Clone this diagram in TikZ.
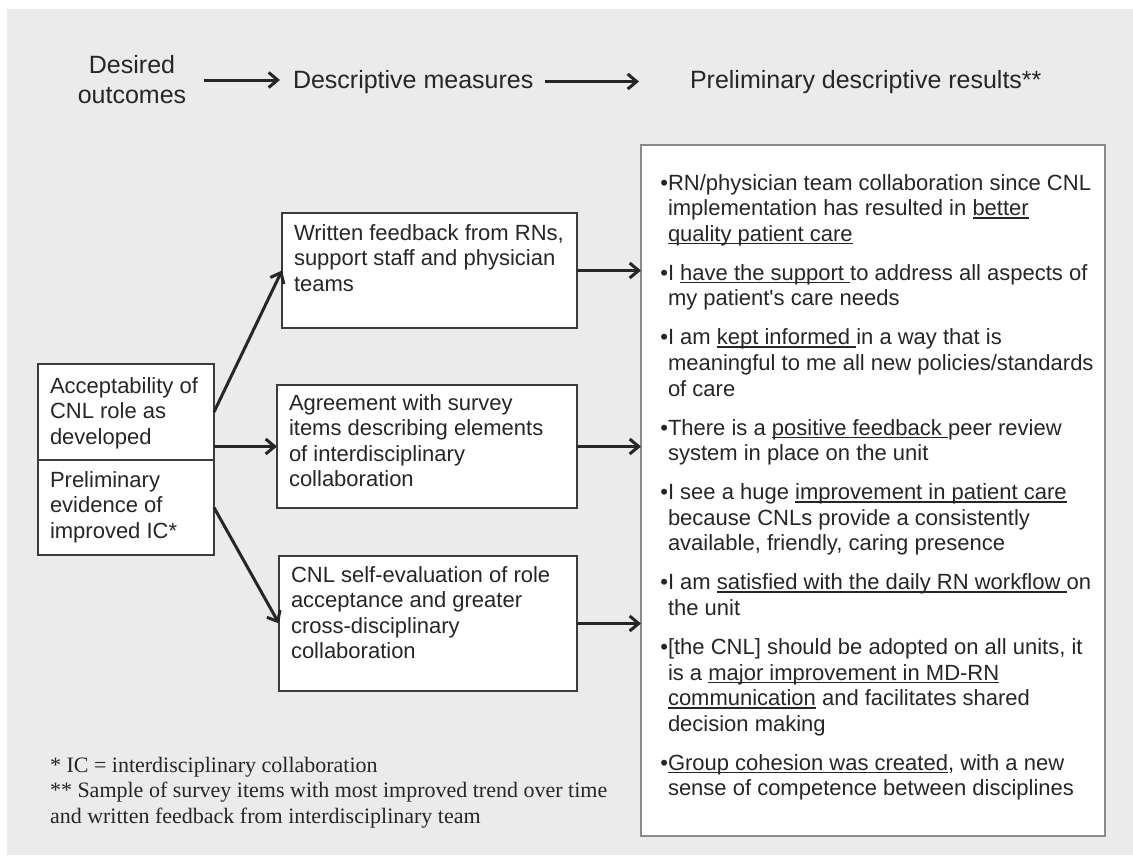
\documentclass[tikz,border=0pt]{standalone}
\usepackage{fontspec}
\newfontfamily\mainsans{Liberation Sans}
\newfontfamily\notefont{Liberation Serif}
\usetikzlibrary{arrows.meta}
\definecolor{bggray}{HTML}{EBEBEC}
\definecolor{txt}{HTML}{262626}
\definecolor{boxline}{HTML}{3C3C3C}
\definecolor{resline}{HTML}{8A8A8A}
\newsavebox\ulsave
\newcommand\ulx[1]{\leavevmode\sbox\ulsave{#1}\rlap{\color{txt}\rule[-3pt]{\wd\ulsave}{1.5pt}}\usebox\ulsave}
\newcommand\bul{\leavevmode\llap{•}}
\begin{document}
\mainsans
\begin{tikzpicture}[x=1pt,y=-1pt,
  every node/.style={inner sep=0pt, outer sep=0pt, text=txt},
  mbox/.style={draw=boxline, line width=1.4pt, fill=white, anchor=north west},
  rbox/.style={draw=resline, line width=2pt, fill=white, anchor=north west},
  arr/.style={-{Straight Barb[length=9pt,width=15pt]}, line width=3pt, draw=txt},
  body/.style={anchor=base west, font=\mainsans\fontsize{22}{25.6}\selectfont},
  head/.style={font=\mainsans\fontsize{25}{30}\selectfont}
]
\useasboundingbox (0,0) rectangle (1133,855);
\fill[white] (0,0) rectangle (1133,855);
\fill[bggray] (7,9) rectangle (1133,855);

% header
\node[head, align=center] (dout) at (132,80) {Desired\\outcomes};
\node[head, anchor=base west] (dm) at (293,88) {Descriptive measures};
\node[head, anchor=base west] (pdr) at (690,88) {Preliminary descriptive results**};
\draw[arr, shorten <=18pt, shorten >=13pt] (dout.east) -- (dout.east -| dm.west);
\draw[arr, shorten <=12pt, shorten >=51pt] (dm.east) -- (dm.east -| pdr.west);

% left boxes
\node[mbox, minimum width=176pt, minimum height=96pt] (lt) at (38,364) {};
\node[mbox, minimum width=176pt, minimum height=95pt] (lb) at (38,460) {};
\node[body] (ltt) at (50,393) {\parbox[t]{160pt}{\raggedright Acceptability of\\CNL role as\\developed}};
\node[body] (lbt) at (50,487) {\parbox[t]{160pt}{\raggedright Preliminary\\evidence of\\improved IC*}};

% middle boxes
\node[mbox, minimum width=295pt, minimum height=115pt] (wf) at (282,213) {};
\node[mbox, minimum width=300pt, minimum height=123pt] (ag) at (277,385) {};
\node[mbox, minimum width=298pt, minimum height=135pt] (cnl) at (279,556) {};
\node[body] (wft) at (294,240) {\parbox[t]{280pt}{\raggedright Written feedback from RNs,\\support staff and physician\\teams}};
\node[body] (agt) at (289,410) {\parbox[t]{280pt}{\raggedright Agreement with survey\\items describing elements\\of interdisciplinary\\collaboration}};
\node[body] (cnlt) at (291,582) {\parbox[t]{280pt}{\raggedright CNL self-evaluation of role\\acceptance and greater\\cross-disciplinary\\collaboration}};

% results box
\node[rbox, minimum width=464pt, minimum height=691pt] (res) at (641,145) {};
\node[body] (rest) at (668,190) {\parbox[t]{440pt}{\raggedright
\bul RN/physician team collaboration since CNL\\
implementation has resulted in \ulx{better}\\
\ulx{quality patient care}\\[13.4pt]
\bul I \ulx{have the support }to address all aspects of\\
my patient's care needs\\[13.4pt]
\bul I am \ulx{kept informed }in a way that is\\
meaningful to me all new policies/standards\\
of care\\[13.4pt]
\bul There is a \ulx{positive feedback }peer review\\
system in place on the unit\\[13.4pt]
\bul I see a huge \ulx{improvement in patient care}\\
because CNLs provide a consistently\\
available, friendly, caring presence\\[13.4pt]
\bul I am \ulx{satisfied with the daily RN workflow }on\\
the unit\\[13.4pt]
\bul [the CNL] should be adopted on all units, it\\
is a \ulx{major improvement in MD-RN}\\
\ulx{communication} and facilitates shared\\
decision making\\[13.4pt]
\bul \ulx{Group cohesion was created}, with a new\\
sense of competence between disciplines}};

% connectors
\draw[arr] (lt.east) -- (wf.west);
\draw[arr] (ag.west -| lt.east) -- (ag.west);
\draw[arr] (lb.east) -- (cnl.west);
\draw[arr] (wf.east) -- (wf.east -| res.west);
\draw[arr] (ag.east) -- (ag.east -| res.west);
\draw[arr] (cnl.east) -- (cnl.east -| res.west);

% footnote
\node[anchor=base west, font=\notefont\fontsize{22}{25.5}\selectfont] (fn) at (50,772) {\parbox[t]{600pt}{\raggedright * IC = interdisciplinary collaboration\\\relax ** Sample of survey items with most improved trend over time\\\relax and written feedback from interdisciplinary team}};
\end{tikzpicture}
\end{document}
